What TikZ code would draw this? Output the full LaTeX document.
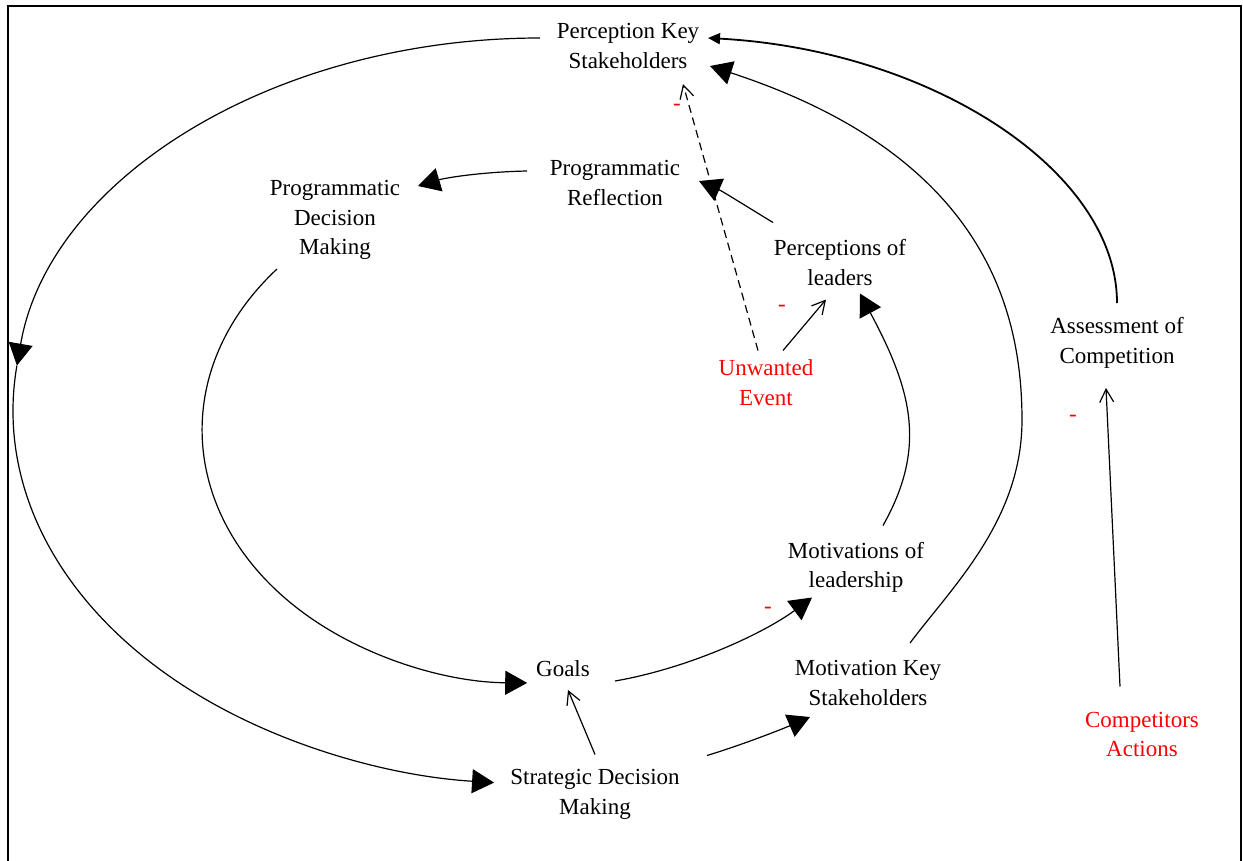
\documentclass[tikz,border=0pt]{standalone}
\usepackage{fontspec}
\setmainfont{Liberation Serif}
\usetikzlibrary{arrows.meta}
\begin{document}
\begin{tikzpicture}[x=1pt,y=-1pt,
  lbl/.style={font=\fontsize{23}{29.5}\selectfont, align=center, inner sep=0pt},
  ext/.style={lbl, text=red},
  sign/.style={font=\fontsize{23}{29.5}\selectfont, text=red, inner sep=0pt},
  link/.style={line width=1.2pt},
  bigarrow/.style={link, -{Triangle[length=22pt,width=24pt]}},
  openarrow/.style={link, -{Straight Barb[length=13pt,width=14pt]}},
  thinarrow/.style={line width=1.8pt, -{Triangle[length=12pt,width=11pt]}},
  dasharrow/.style={openarrow, dash pattern=on 8pt off 5pt}]

% page and frame (open at the bottom)
\path[use as bounding box, fill=white] (0,0) rectangle (1243,860);
\draw[line width=2pt] (8,862) -- (8,6) -- (1241,6) -- (1241,862);

% variables
\node[lbl] (pks)   at (628,46)  {Perception Key\\Stakeholders};
\node[lbl] (pdm)   at (335,220) {Programmatic\\Decision\\Making};
\node[lbl] (pr)    at (615,183) {Programmatic\\Reflection};
\node[lbl] (pl)    at (840,262.5) {Perceptions of\\leaders};
\node[ext] (ue)    at (766,382.5) {Unwanted\\Event};
\node[lbl] (ac)    at (1117,343) {Assessment of\\Competition};
\node[lbl] (mol)   at (856,567.5) {Motivations of\\leadership};
\node[lbl] (goals) at (563,669) {Goals};
\node[lbl] (mks)   at (868,683) {Motivation Key\\Stakeholders};
\node[lbl] (sdm)   at (595,794.5) {Strategic Decision\\Making};
\node[ext] (ca)    at (1142,734.5) {Competitors\\Actions};

% polarity signs
\node[sign] (sgA) at (677,107) {-};
\node[sign] (sgB) at (782,308) {-};
\node[sign] (sgC) at (1073,418) {-};
\node[sign] (sgD) at (768,610) {-};

% outer loop: stakeholder perception back to strategic decisions
\draw[bigarrow] ([shift={(-88,-8)}]pks.center)
  arc[start angle=270, end angle=187, x radius=527, y radius=373] coordinate (outerturn);
\draw[bigarrow] (outerturn)
  arc[start angle=187, end angle=95, x radius=527, y radius=373];

% inner loop: programmatic decisions feed goals
\draw[bigarrow] ([shift={(-58,49)}]pdm.center)
  arc[start angle=219.5, end angle=90.5, x radius=328, y radius=253];

% assessment of competition to stakeholder perception
\draw[thinarrow] ([shift={(0,-40)}]ac.center)
  .. controls +(0,-133) and +(222,12) .. ([shift={(80,-8)}]pks.center);

% motivation of stakeholders to their perception
\draw[bigarrow] ([shift={(42,-40)}]mks.center)
  .. controls +(42,-56) and +(0,100) .. (1022,420)
  .. controls +(0,-120) and +(266,87) .. ([shift={(82,20)}]pks.center);

% reflection to programmatic decisions
\draw[bigarrow] ([shift={(-88,-12)}]pr.center)
  .. controls +(-47,1) and +(27,-8) .. ([shift={(83,-34)}]pdm.center);

% goals to motivations of leadership
\draw[bigarrow] ([shift={(52,12)}]goals.center)
  .. controls +(75,-13) and +(-47,35) .. ([shift={(-44,30)}]mol.center);

% strategic decisions to goals and to stakeholder motivation
\draw[openarrow] ([shift={(0,-40)}]sdm.center) -- ([shift={(5,21)}]goals.center);
\draw[bigarrow] ([shift={(112,-39)}]sdm.center)
  .. controls +(33,-10) and +(-30,13) .. ([shift={(-58,34)}]mks.center);

% leadership motivation to leaders' perception, then to reflection
\draw[bigarrow] ([shift={(27,-42)}]mol.center)
  .. controls +(44,-78) and +(52,97) .. ([shift={(20,31)}]pl.center);
\draw[bigarrow] ([shift={(-67,-40)}]pl.center)
  .. controls +(-23,-14) and +(23,10) .. ([shift={(84,-2)}]pr.center);

% external influences
\draw[openarrow] ([shift={(17,-32)}]ue.center) -- ([shift={(-14,37)}]pl.center);
\draw[dasharrow] ([shift={(-8,-32)}]ue.center) -- ([shift={(55,38)}]pks.center);
\draw[openarrow] ([shift={(-22,-48)}]ca.center) -- ([shift={(-11,45)}]ac.center);
\end{tikzpicture}
\end{document}
